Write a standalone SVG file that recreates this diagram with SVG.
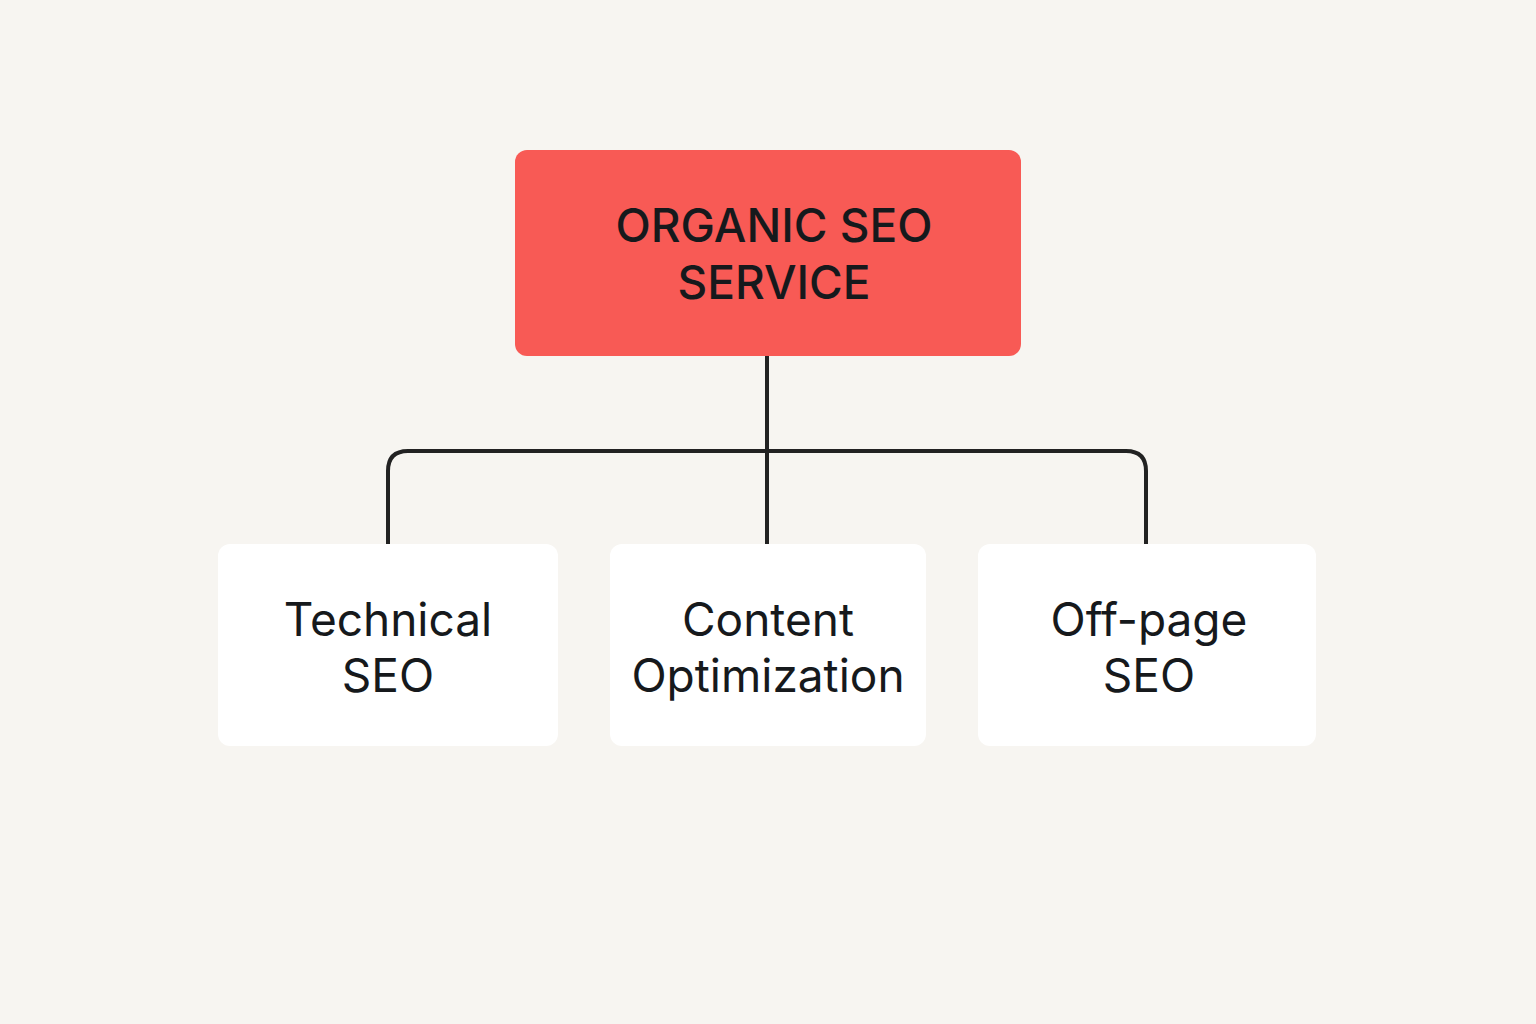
<svg xmlns="http://www.w3.org/2000/svg" width="1536" height="1024" viewBox="0 0 1536 1024">
<style>
.bg{fill:#F7F5F1}
.root{fill:#F85A55}
.child{fill:#FFFFFF}
.conn{fill:none;stroke:#222222;stroke-width:4;stroke-linecap:round;stroke-linejoin:round}
.t{font-family:Inter,"Noto Sans","Liberation Sans",sans-serif;fill:#16191C;text-anchor:middle}
.tr{font-size:46px;font-weight:500}
.tc{font-size:46px;font-weight:400}
</style>
<rect class="bg" x="0" y="0" width="1536" height="1024"/>
<g id="connectors">
<path class="conn" d="M767 356 V544"/>
<path class="conn" d="M388 544 V471 Q388 451 408 451 H1126 Q1146 451 1146 471 V544"/>
</g>
<g id="root">
<rect class="root" x="515" y="150" width="506" height="206" rx="12"/>
<text class="t tr" x="774" y="242">ORGANIC SEO</text>
<text class="t tr" x="774" y="299">SERVICE</text>
</g>
<g id="technical">
<rect class="child" x="218" y="544" width="340" height="202" rx="12"/>
<text class="t tc" x="388" y="636">Technical</text>
<text class="t tc" x="388" y="692">SEO</text>
</g>
<g id="content">
<rect class="child" x="610" y="544" width="316" height="202" rx="12"/>
<text class="t tc" x="768" y="636">Content</text>
<text class="t tc" x="768" y="692">Optimization</text>
</g>
<g id="offpage">
<rect class="child" x="978" y="544" width="338" height="202" rx="12"/>
<text class="t tc" x="1149" y="636">Off-page</text>
<text class="t tc" x="1149" y="692">SEO</text>
</g>
</svg>
